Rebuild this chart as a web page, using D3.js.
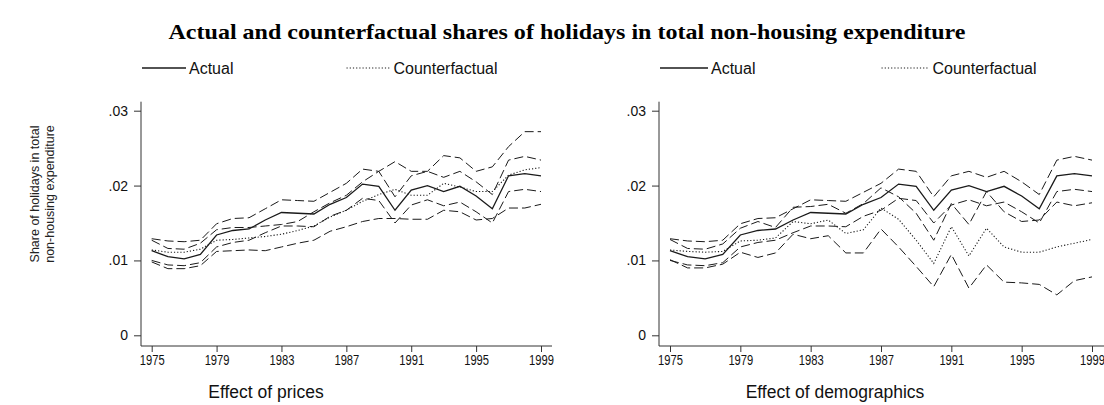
<!DOCTYPE html>
<html>
<head>
<meta charset="utf-8">
<script src="https://cdn.jsdelivr.net/npm/d3@7"></script>
<style>
  html, body { margin: 0; padding: 0; background: #fff; }
  svg { display: block; }
</style>
</head>
<body>
<svg id="chart" width="1104" height="405"></svg>
<script>
// Survey years and axis ticks
const years = [1975, 1976, 1977, 1978, 1979, 1980, 1981, 1982, 1983, 1984, 1985, 1986, 1987,
               1988, 1989, 1990, 1991, 1992, 1993, 1994, 1995, 1996, 1997, 1998, 1999];
const xTicks = [1975, 1979, 1983, 1987, 1991, 1995, 1999];
const yTicks = [0, 0.01, 0.02, 0.03];

// Actual share with its confidence band (same in both panels)
const actual   = [.0113, .0105, .0102, .0108, .0134, .0140, .0142, .0154, .0164, .0163, .0162, .0175, .0184,
                  .0202, .0199, .0167, .0194, .0200, .0192, .0199, .0186, .0169, .0213, .0216, .0213];
const actualHi = [.0129, .0126, .0125, .0127, .0149, .0156, .0157, .0169, .0181, .0180, .0179, .0191, .0203,
                  .0222, .0219, .0185, .0213, .0219, .0211, .0219, .0205, .0188, .0234, .0239, .0234];
const actualLo = [.0100, .0094, .0093, .0097, .0118, .0124, .0127, .0137, .0146, .0146, .0145, .0159, .0167,
                  .0183, .0180, .0150, .0174, .0181, .0173, .0178, .0165, .0150, .0192, .0195, .0192];

// Counterfactual: prices held at base year
const pricesCf   = [.0114, .0111, .0111, .0115, .0127, .0128, .0130, .0132, .0135, .0140, .0146, .0158, .0167,
                    .0179, .0188, .0195, .0187, .0187, .0203, .0198, .0192, .0192, .0214, .0221, .0224];
const pricesCfHi = [.0127, .0116, .0115, .0123, .0141, .0144, .0144, .0146, .0148, .0152, .0165, .0177, .0187,
                    .0205, .0219, .0232, .0219, .0219, .0240, .0237, .0219, .0225, .0252, .0272, .0272];
const pricesCfLo = [.0098, .0089, .0089, .0093, .0112, .0113, .0114, .0113, .0118, .0123, .0127, .0139, .0145,
                    .0152, .0156, .0156, .0155, .0155, .0167, .0165, .0154, .0156, .0170, .0170, .0175];

// Counterfactual: demographics held at base year
const demogCf   = [.0114, .0112, .0111, .0112, .0126, .0127, .0130, .0152, .0149, .0154, .0136, .0141, .0170,
                   .0155, .0127, .0096, .0145, .0106, .0143, .0118, .0111, .0111, .0118, .0123, .0128];
const demogCfHi = [.0128, .0116, .0115, .0122, .0143, .0152, .0144, .0171, .0172, .0175, .0163, .0176, .0197,
                   .0185, .0163, .0127, .0176, .0148, .0192, .0165, .0152, .0154, .0178, .0173, .0177];
const demogCfLo = [.0101, .0090, .0090, .0095, .0111, .0104, .0110, .0135, .0129, .0133, .0110, .0110, .0142,
                   .0118, .0092, .0065, .0108, .0063, .0094, .0071, .0070, .0068, .0054, .0073, .0078];

const panelTitles = ["Effect of prices", "Effect of demographics"];
const legendLabels = ["Actual", "Counterfactual"];
const chartTitle = "Actual and counterfactual shares of holidays in total non-housing expenditure";
const yTitle = ["Share of holidays in total", "non-housing expenditure"];

const svg = d3.select("#chart");
const sans = "'Liberation Sans', Arial, sans-serif";
const serif = "'Liberation Serif', 'Times New Roman', serif";
const ink = "#1a1a1a";

// Title
svg.append("text")
  .attr("x", 567).attr("y", 39)
  .attr("text-anchor", "middle")
  .attr("font-family", serif).attr("font-weight", "bold").attr("font-size", 22)
  .attr("textLength", 797).attr("lengthAdjust", "spacingAndGlyphs")
  .attr("fill", "#000")
  .text(chartTitle);

// Y axis title (two lines, rotated)
const yt = svg.append("text")
  .attr("transform", "translate(39,194) rotate(-90)")
  .attr("text-anchor", "middle")
  .attr("font-family", sans).attr("font-size", 12.5).attr("fill", "#222");
yt.append("tspan").attr("x", 0).attr("dy", 0).text(yTitle[0]);
yt.append("tspan").attr("x", 0).attr("dy", 14.5).text(yTitle[1]);

const styles = {
  solid:  { dash: null,    width: 1.3 },
  dashed: { dash: "9,4",   width: 1.0 },
  dotted: { dash: "1.2,2", width: 1.1 }
};

const panels = [
  { axisX: 141, r0: 151.7, r1: 541, right: 552, keyLen: 44, titleX: 266,
    series: [
      { v: pricesCfHi, s: "dashed" }, { v: pricesCfLo, s: "dashed" },
      { v: actualHi, s: "dashed" },   { v: actualLo, s: "dashed" },
      { v: pricesCf, s: "dotted" },   { v: actual, s: "solid" }
    ] },
  { axisX: 659, r0: 670, r1: 1092, right: 1104, keyLen: 48, titleX: 835,
    series: [
      { v: demogCfHi, s: "dashed" }, { v: demogCfLo, s: "dashed" },
      { v: actualHi, s: "dashed" },  { v: actualLo, s: "dashed" },
      { v: demogCf, s: "dotted" },   { v: actual, s: "solid" }
    ] }
];

const plotTop = 101.7, plotBottom = 346;
const y = d3.scaleLinear().domain([0, 0.03]).range([335.3, 110.7]);

panels.forEach((p, i) => {
  const x = d3.scaleLinear().domain([1975, 1999]).range([p.r0, p.r1]);
  const g = svg.append("g");

  // Axis lines
  g.append("line").attr("x1", p.axisX).attr("x2", p.axisX).attr("y1", plotTop).attr("y2", plotBottom)
    .attr("stroke", "#333").attr("stroke-width", 1);
  g.append("line").attr("x1", p.axisX).attr("x2", p.right).attr("y1", plotBottom).attr("y2", plotBottom)
    .attr("stroke", "#333").attr("stroke-width", 1);

  // Y axis
  const ya = g.append("g").attr("transform", `translate(${p.axisX},0)`)
    .call(d3.axisLeft(y).tickValues(yTicks).tickSize(7).tickPadding(6)
      .tickFormat(d => d === 0 ? "0" : d3.format(".2f")(d).replace(/^0/, "")));
  ya.select(".domain").remove();
  ya.selectAll("line").attr("stroke", "#333");
  ya.selectAll("text").attr("font-family", sans).attr("font-size", 14).attr("fill", "#111");

  // X axis
  const xa = g.append("g").attr("transform", `translate(0,${plotBottom})`)
    .call(d3.axisBottom(x).tickValues(xTicks).tickSize(6).tickPadding(3).tickFormat(d3.format("d")));
  xa.select(".domain").remove();
  xa.selectAll("line").attr("stroke", "#333");
  xa.selectAll("text").attr("font-family", sans).attr("font-size", 14).attr("fill", "#111")
    .attr("transform", "scale(0.8,1)");

  // Series
  const line = d3.line().x((d, j) => x(years[j])).y(d => y(d));
  p.series.forEach(sr => {
    const st = styles[sr.s];
    g.append("path").datum(sr.v)
      .attr("d", line)
      .attr("fill", "none")
      .attr("stroke", ink)
      .attr("stroke-width", st.width)
      .attr("stroke-dasharray", st.dash)
      .attr("stroke-linejoin", "miter");
  });

  // Legend: two keys spread over the plot width
  const lg = g.append("g").attr("font-family", sans).attr("font-size", 16).attr("fill", "#111");
  const keyX = [p.axisX + 1, p.axisX + 0.5 * (p.right - p.axisX)];
  [["solid", legendLabels[0]], ["dotted", legendLabels[1]]].forEach(([s, lab], k) => {
    const lx = keyX[k];
    const st = styles[s];
    lg.append("line").attr("x1", lx).attr("x2", lx + p.keyLen).attr("y1", 68).attr("y2", 68)
      .attr("stroke", ink).attr("stroke-width", st.width).attr("stroke-dasharray", st.dash);
    lg.append("text").attr("x", lx + p.keyLen + 3).attr("y", 74).text(lab);
  });

  // Panel caption
  svg.append("text")
    .attr("x", p.titleX).attr("y", 398)
    .attr("text-anchor", "middle")
    .attr("font-family", sans).attr("font-size", 17.5).attr("fill", "#111")
    .text(panelTitles[i]);
});
</script>
</body>
</html>
